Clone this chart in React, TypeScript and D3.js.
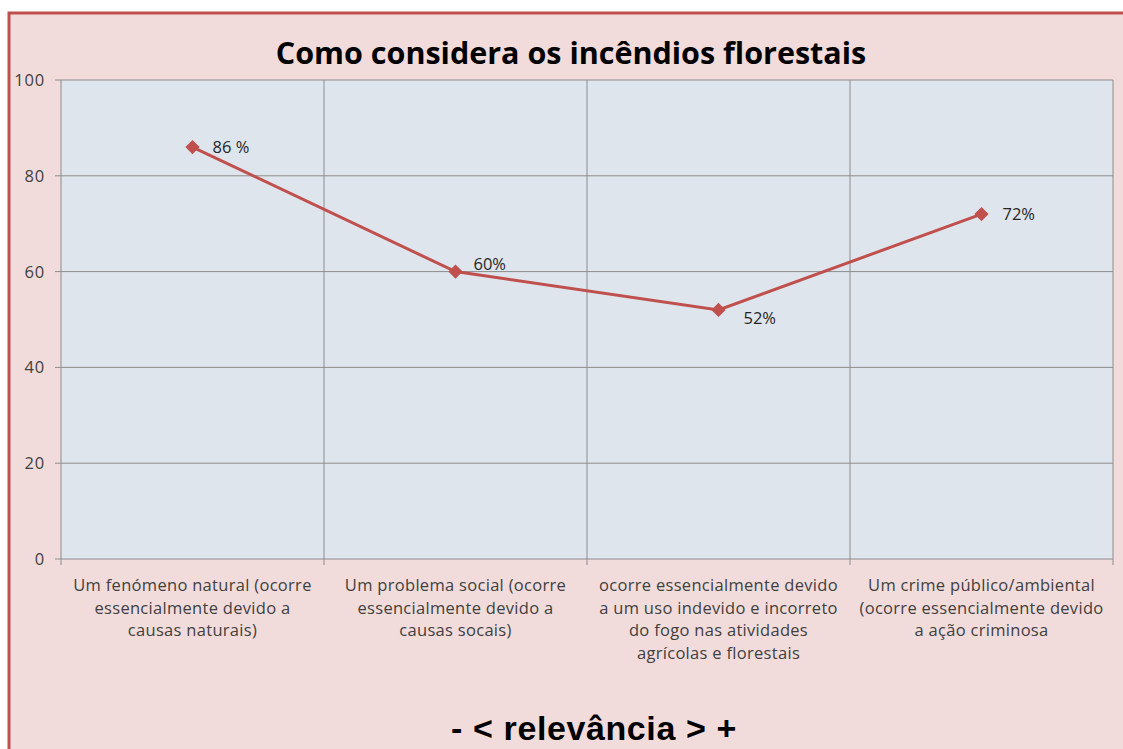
import React from "react";
import * as d3 from "d3";

const categories: string[][] = [
  ["Um fenómeno natural (ocorre", "essencialmente devido a", "causas naturais)"],
  ["Um problema social (ocorre", "essencialmente devido a", "causas socais)"],
  ["ocorre essencialmente devido", "a um uso indevido e incorreto", "do fogo nas atividades", "agrícolas e florestais"],
  ["Um crime público/ambiental", "(ocorre essencialmente devido", "a ação criminosa"],
];
const values: number[] = [86, 60, 52, 72];
const labels: string[] = ["86 %", "60%", "52%", "72%"];
const labelOffsets: [number, number][] = [[20, 6], [18, -2], [25, 14], [21, 6]];
const yTicks: number[] = [0, 20, 40, 60, 80, 100];

const W = 1123;
const H = 749;
const plot = { left: 61, top: 80, right: 1113, bottom: 559 };

export default function App() {
  const x = d3
    .scaleBand<number>()
    .domain(categories.map((_, i) => i))
    .range([plot.left, plot.right])
    .padding(0);
  const y = d3.scaleLinear().domain([0, 100]).range([plot.bottom, plot.top]);
  const cx = (i: number) => (x(i) as number) + x.bandwidth() / 2;
  const line = d3
    .line<number>()
    .x((_, i) => cx(i))
    .y((d) => y(d));
  const diamond = d3.symbol().type(d3.symbolDiamond2).size(130)();
  const bounds = [...categories.map((_, i) => x(i) as number), plot.right];

  return (
    <svg
      width={W}
      height={H}
      style={{ position: "absolute", left: 0, top: 0 }}
      fontFamily="'Open Sans', sans-serif"
    >
      <rect x={0} y={0} width={W} height={H} fill="#ffffff" />
      <rect x={9} y={13} width={W + 10} height={H + 10} fill="#f2dcdb" stroke="#c0504d" strokeWidth={3} />
      <rect
        x={plot.left}
        y={plot.top}
        width={plot.right - plot.left}
        height={plot.bottom - plot.top}
        fill="#dfe5ed"
      />
      {yTicks.map((t) => (
        <g key={t}>
          <line x1={plot.left} x2={plot.right} y1={y(t)} y2={y(t)} stroke="#8c8c8c" strokeWidth={1} />
          <line x1={plot.left - 6} x2={plot.left} y1={y(t)} y2={y(t)} stroke="#8c8c8c" strokeWidth={1} />
          <text x={45} y={y(t) + 6} textAnchor="end" fontSize={16.5} fill="#404040" letterSpacing={0.8}>
            {t}
          </text>
        </g>
      ))}
      {bounds.map((b, i) => (
        <g key={i}>
          <line x1={b} x2={b} y1={plot.top} y2={plot.bottom + 6} stroke="#8c8c8c" strokeWidth={1} />
        </g>
      ))}
      {categories.map((lines, i) => (
        <text key={i} textAnchor="middle" fontSize={16.5} fill="#404040" letterSpacing={0.3}>
          {lines.map((l, j) => (
            <tspan key={j} x={cx(i)} y={591 + j * 22.5}>
              {l}
            </tspan>
          ))}
        </text>
      ))}
      <path d={line(values) || ""} fill="none" stroke="#c0504d" strokeWidth={3} />
      {values.map((v, i) => (
        <path key={i} d={diamond || ""} transform={`translate(${cx(i)},${y(v)})`} fill="#c0504d" />
      ))}
      {values.map((v, i) => (
        <text
          key={i}
          x={cx(i) + labelOffsets[i][0]}
          y={y(v) + labelOffsets[i][1]}
          fontSize={16.5}
          fill="#262626"
        >
          {labels[i]}
        </text>
      ))}
      <text x={571} y={64} textAnchor="middle" fontSize={30.5} fontWeight="bold" fill="#000">
        Como considera os incêndios florestais
      </text>
      <text
        x={594}
        y={740}
        textAnchor="middle"
        fontSize={34}
        fontWeight="bold"
        fill="#000"
        letterSpacing={0.6}
        fontFamily="'Liberation Sans', Arial, sans-serif"
      >
        - &lt; relevância &gt; +
      </text>
    </svg>
  );
}
